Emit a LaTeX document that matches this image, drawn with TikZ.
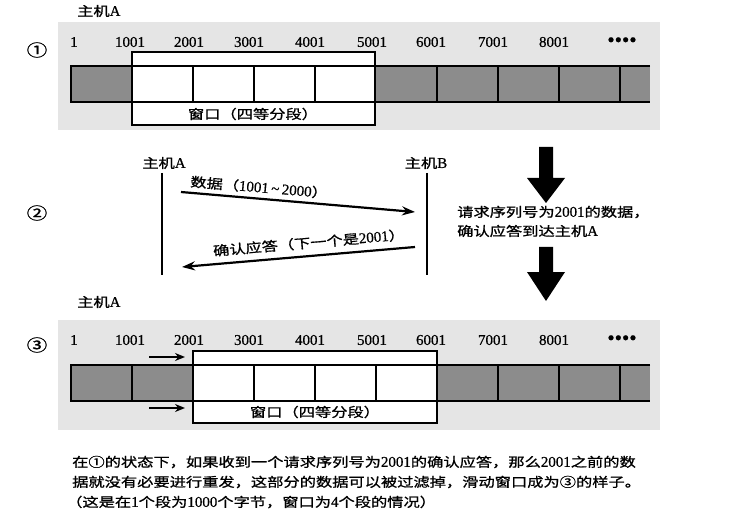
\documentclass[tikz,border=0pt]{standalone}
\usepackage{fontspec}
\setmainfont{Liberation Serif}[FakeBold=0.6]
\newfontfamily\cjk[Scale=0.87,FakeStretch=1.25,FakeBold=1.0]{Noto Sans CJK SC}
\usetikzlibrary{arrows.meta}
\begin{document}
\begin{tikzpicture}[x=1bp,y=-1bp,
  every node/.style={inner sep=0pt,font=\fontsize{15}{18}\selectfont},
  bgpanel/.style={fill=black!10},
  segline/.style={line width=1.6bp},
  darkseg/.style={fill=black!45,draw=black,line width=1.6bp},
  winbox/.style={fill=white,draw=black,line width=1.6bp},
  hostline/.style={line width=2.6bp},
  msgarrow/.style={line width=2.2bp,-{Stealth[length=13bp,width=9bp]}},
  slidearrow/.style={line width=2.4bp,-{Stealth[length=10bp,width=8bp]}},
  bigarrow/.style={fill=black},
  circnum/.style={font=\fontsize{19}{20}\selectfont},
  dotsstyle/.style={font=\fontsize{21}{21}\selectfont}]
\useasboundingbox (0,0) rectangle (736,518);
\fill[white] (0,0) rectangle (736,518);

% ---------------- section 1 ----------------
\fill[bgpanel] (58,22) rectangle (660,130);
\node[anchor=west] (hA1) at (77,11) {{\cjk 主机}A};
\node[circnum] (c1) at (37,50) {\cjk ①};
\foreach \a/\b in {71/132,375/437,437/498,498/559,559/620}
  \draw[darkseg] (\a,66) rectangle (\b,102);
\fill[black!45] (620,66) rectangle (650,102);
\draw[segline] (650,66) -- (620,66) -- (620,102) -- (650,102);
\draw[winbox] (132,52) rectangle (375,125);
\draw[segline] (132,66) -- (375,66) (132,102) -- (375,102);
\foreach \x in {193,254,315} \draw[segline] (\x,66) -- (\x,102);
\node[anchor=west] (n1a) at (70,42) {1};
\foreach \x/\t [count=\i] in {130/1001,189/2001,249/3001,310/4001,372/5001,431/6001,493/7001,554/8001}
  \node (n1-\i) at (\x,42) {\t};
\node[dotsstyle] (d1) at (622,42) {••••};
\node (w1) at (253,114) {\cjk 窗口（四等分段）};

% ---------------- section 2 ----------------
\node[circnum] (c2) at (37,213) {\cjk ②};
\node (hA2) at (164,163) {{\cjk 主机}A};
\node (hB2) at (426,163) {{\cjk 主机}B};
\coordinate (aTop) at (162,173);
\coordinate (aBot) at (162,275);
\coordinate (bTop) at (427,173);
\coordinate (bBot) at (427,275);
\draw[hostline] (aTop) -- (aBot);
\draw[hostline] (bTop) -- (bBot);
\coordinate (m1s) at (181,192);
\coordinate (m1e) at (415,212);
\coordinate (m2s) at (415,247);
\coordinate (m2e) at (182,267);
\draw[msgarrow] (m1s) -- node[sloped,above=4bp,pos=0.33] (l1) {{\cjk 数据（}1001\,\textasciitilde\,2000{\cjk ）}} (m1e);
\draw[msgarrow] (m2s) -- node[sloped,above=6bp,pos=0.45] (l2) {{\cjk 确认应答（下一个是}2001{\cjk ）}} (m2e);
\fill[bigarrow] (539,147) -- (553,147) -- (553,178) -- (565,178) -- (546,203) -- (527,178) -- (539,178) -- cycle;
\fill[bigarrow] (539,247) -- (553,247) -- (553,272) -- (565,272) -- (546,301) -- (527,272) -- (539,272) -- cycle;
\node[anchor=west] (r1) at (457,212) {{\cjk 请求序列号为}2001{\cjk 的数据，}};
\node[anchor=west] (r2) at (457,231) {{\cjk 确认应答到达主机}A};

% ---------------- section 3 ----------------
\fill[bgpanel] (58,320) rectangle (660,430);
\node[anchor=west] (hA3) at (77,302) {{\cjk 主机}A};
\node[circnum] (c3) at (37,345) {\cjk ③};
\foreach \a/\b in {71/132,132/193,437/498,498/559,559/620}
  \draw[darkseg] (\a,365) rectangle (\b,401);
\fill[black!45] (620,365) rectangle (650,401);
\draw[segline] (650,365) -- (620,365) -- (620,401) -- (650,401);
\draw[winbox] (193,351) rectangle (437,423);
\draw[segline] (193,365) -- (437,365) (193,401) -- (437,401);
\foreach \x in {254,315,376} \draw[segline] (\x,365) -- (\x,401);
\node[anchor=west] (n3a) at (70,340) {1};
\foreach \x/\t [count=\i] in {130/1001,189/2001,249/3001,310/4001,372/5001,431/6001,493/7001,554/8001}
  \node (n3-\i) at (\x,340) {\t};
\node[dotsstyle] (d3) at (622,340) {••••};
\node (w3) at (315,412) {\cjk 窗口（四等分段）};
\coordinate (s1s) at (149,357);
\coordinate (s1e) at (185,357);
\coordinate (s2s) at (149,408);
\coordinate (s2e) at (185,408);
\draw[slidearrow] (s1s) -- (s1e);
\draw[slidearrow] (s2s) -- (s2e);

% ---------------- caption ----------------
\node[anchor=west] (t1) at (72,462) {{\cjk 在①的状态下，如果收到一个请求序列号为}2001{\cjk 的确认应答，那么}2001{\cjk 之前的数}};
\node[anchor=west] (t2) at (72,482) {\cjk 据就没有必要进行重发，这部分的数据可以被过滤掉，滑动窗口成为③的样子。};
\node[anchor=west] (t3) at (66,502) {{\cjk （这是在}1{\cjk 个段为}1000{\cjk 个字节，窗口为}4{\cjk 个段的情况）}};
\end{tikzpicture}
\end{document}
